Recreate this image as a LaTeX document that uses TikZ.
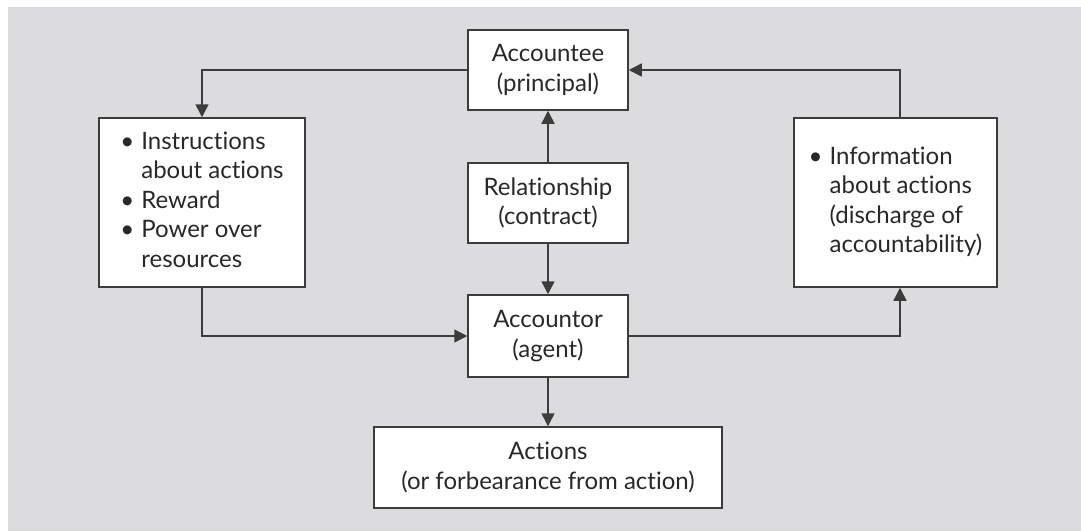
\documentclass[tikz,border=0pt]{standalone}
\usepackage{fontspec}
\setmainfont{Lato}[Ligatures=NoCommon]
\usetikzlibrary{arrows.meta}
\definecolor{bg}{RGB}{220,220,222}
\definecolor{ln}{RGB}{60,60,60}
\definecolor{tx}{RGB}{40,40,40}
\begin{document}
\begin{tikzpicture}[x=1pt,y=-1pt,
  box/.style={draw=ln, fill=white, line width=1.5pt, inner sep=0pt, text=tx,
    font=\fontsize{24}{29.5}\selectfont, align=center},
  arr/.style={draw=ln, line width=1.5pt, -{Triangle[width=13pt,length=13pt]}}]
\useasboundingbox (0,0) rectangle (1081,531);
\fill[bg] (8,7) rectangle (1081,531);
\node[box, minimum width=160pt, minimum height=80pt] (acctee) at (548,70) {Accountee\\(principal)};
\node[box, minimum width=160pt, minimum height=80pt] (rel) at (548,203) {Relationship\\(contract)};
\node[box, minimum width=160pt, minimum height=82pt] (acctor) at (548,336) {Accountor\\(agent)};
\node[box, minimum width=348pt, minimum height=81pt] (actions) at (548,467.5) {Actions\\(or forbearance from action)};
\node[box, minimum width=206pt, minimum height=169pt] (left) at (202,202.5)
  {\begin{tabular}{@{}l@{\hspace{7pt}}l@{}}\textbullet & Instructions\\ & about actions\\ \textbullet & Reward\\ \textbullet & Power over\\ & resources\end{tabular}};
\node[box, minimum width=203pt, minimum height=169pt] (right) at (895.5,202.5)
  {\begin{tabular}{@{}l@{\hspace{7pt}}l@{}}\textbullet & Information\\ & about actions\\ & (discharge of\\ & accountability)\end{tabular}};
\draw[arr] (acctee.west) -| (left.north);
\draw[arr] ([xshift=4.5pt]right.north) |- (acctee.east);
\draw[arr] (rel.north) -- (acctee.south);
\draw[arr] (rel.south) -- (acctor.north);
\draw[arr] (left.south) |- (acctor.west);
\draw[arr] (acctor.east) -| ([xshift=4.5pt]right.south);
\draw[arr] (acctor.south) -- (actions.north);
\end{tikzpicture}
\end{document}
